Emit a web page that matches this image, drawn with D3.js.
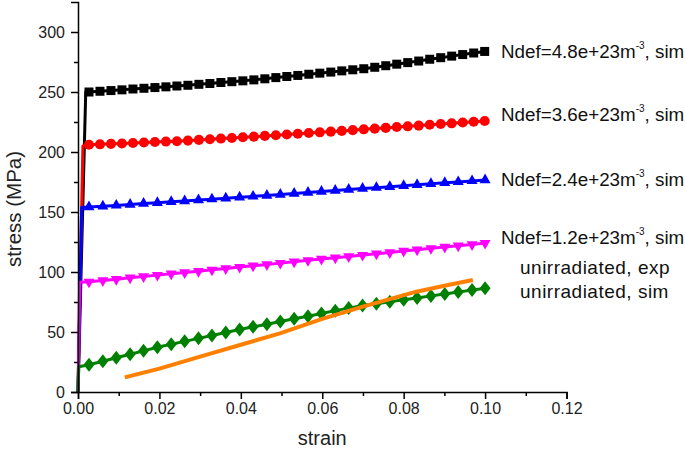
<!DOCTYPE html>
<html>
<head>
<meta charset="utf-8">
<script src="https://cdn.jsdelivr.net/npm/d3@7"></script>
<style>
  html, body { margin: 0; padding: 0; background: #fff; }
  svg { display: block; font-family: "Liberation Sans", Arial, sans-serif; }
</style>
</head>
<body>
<svg id="chart" width="685" height="453"></svg>
<script>
// ---------------- data ----------------
const strainA = [0.0027,0.0054,0.0081,0.0108,0.0135,0.0162,0.0189,0.0216,0.0243,0.0270,
  0.0297,0.0324,0.0351,0.0378,0.0405,0.0432,0.0459,0.0486,0.0513,0.0540,
  0.0567,0.0594,0.0621,0.0648,0.0675,0.0702,0.0729,0.0756,0.0783,0.0810,
  0.0837,0.0864,0.0891,0.0918,0.0945,0.0972,0.0999];
const strainB = [0.0027,0.0061,0.0094,0.0128,0.0161,0.0195,0.0229,0.0262,0.0296,0.0329,
  0.0363,0.0397,0.0430,0.0464,0.0497,0.0531,0.0565,0.0598,0.0632,0.0665,
  0.0699,0.0733,0.0766,0.0800,0.0833,0.0867,0.0901,0.0934,0.0968,0.1000];

const stress48 = [250.0,250.6,251.2,251.8,252.5,253.1,253.7,254.3,255.0,255.6,
  256.4,257.1,257.9,258.6,259.3,260.1,261.0,262.0,262.9,263.8,
  264.8,265.7,266.6,267.6,268.5,269.4,270.6,271.9,273.2,274.5,
  275.8,277.3,278.6,279.9,281.2,282.5,283.8];
const stress36 = [206.0,206.4,206.8,207.1,207.5,207.9,208.3,208.7,209.0,209.5,
  210.1,210.6,211.2,211.7,212.3,212.8,213.4,214.0,214.6,215.2,
  215.8,216.4,217.0,217.6,218.2,218.9,219.5,220.1,220.8,221.4,
  222.0,222.7,223.3,223.9,224.6,225.2,225.8];
const stress24 = [154.1,154.8,155.5,156.3,157.0,157.7,158.5,159.2,159.9,160.7,
  161.5,162.2,163.0,163.8,164.6,165.4,166.3,167.1,167.9,168.7,
  169.5,170.3,171.1,171.9,172.7,173.5,174.3,175.1,175.9,176.7];
const stress12 = [91.8,92.9,94.0,95.2,96.3,97.4,98.5,99.6,100.7,101.8,
  103.0,104.1,105.2,106.3,107.4,108.5,109.7,110.8,111.9,113.0,
  114.1,115.2,116.3,117.5,118.6,119.7,120.8,121.9,123.0,124.1];
const stressUnirrSim = [22.7,25.6,28.5,31.5,34.3,37.3,39.8,42.2,44.7,47.1,
  49.6,52.1,54.3,56.5,58.7,61.0,63.2,65.4,67.8,69.9,
  72.0,73.6,75.2,76.8,78.4,80.1,81.7,83.3,84.9,86.4];

// elastic start (origin -> yield point) for each sim series
const yieldStrain = [0.0019, 0.0012, 0.0009, 0.0004, 0.0002];
const yieldStress = [250, 205, 154, 91.5, 21];

// experimental curve (no markers)
const expStrain = [0.0115,0.0200,0.0300,0.0398,0.0496,0.0600,0.0700,0.0831,0.0900,0.0970];
const expStress = [12.2,19.5,29.5,39.2,48.9,61.0,71.1,83.6,88.5,93.3];

const seriesNames = ["Ndef=4.8e+23m", "Ndef=3.6e+23m", "Ndef=2.4e+23m", "Ndef=1.2e+23m", "unirradiated, sim"];
const expName = "unirradiated, exp";
const xTicks = [0, 0.02, 0.04, 0.06, 0.08, 0.10, 0.12];
const yTicks = [0, 50, 100, 150, 200, 250, 300];
const xTitle = "strain";
const yTitle = "stress (MPa)";

// ---------------- layout ----------------
const svg = d3.select("#chart");
const x = d3.scaleLinear().domain([0, 0.12]).range([78, 566.5]);
const y = d3.scaleLinear().domain([0, 325]).range([392, 2]);

const colors = ["#000000", "#ff0000", "#0000ff", "#ff00ff", "#008000"];
const expColor = "#ff8000";

const symbols = [
  "M-4.5,-4.5L4.5,-4.5L4.5,4.5L-4.5,4.5Z",
  d3.symbol(d3.symbolCircle, 80)(),
  "M0,-6.5L5.5,3.2L-5.5,3.2Z",
  "M0,6.5L5.5,-3.2L-5.5,-3.2Z",
  "M0,-7L5.5,0L0,7L-5.5,0Z"
];

const simSeries = [
  { strain: strainA, stress: stress48 },
  { strain: strainA, stress: stress36 },
  { strain: strainB, stress: stress24 },
  { strain: strainB, stress: stress12 },
  { strain: strainB, stress: stressUnirrSim }
];

const line = d3.line().x(d => x(d[0])).y(d => y(d[1]));

simSeries.forEach((s, i) => {
  const pts = [[0, 0], [yieldStrain[i], yieldStress[i]]].concat(s.strain.map((v, j) => [v, s.stress[j]]));
  const g = svg.append("g");
  g.append("path").attr("d", line(pts)).attr("fill", "none")
    .attr("stroke", colors[i]).attr("stroke-width", 3).attr("stroke-linejoin", "round");
  g.selectAll("path.m").data(s.strain.map((v, j) => [v, s.stress[j]])).enter()
    .append("path").attr("class", "m")
    .attr("d", symbols[i])
    .attr("transform", d => `translate(${x(d[0])},${y(d[1])})`)
    .attr("fill", colors[i]);
});

// experimental
svg.append("path")
  .attr("d", line(expStrain.map((v, j) => [v, expStress[j]])))
  .attr("fill", "none").attr("stroke", expColor).attr("stroke-width", 4)
  .attr("stroke-linejoin", "round");

// ---------------- axes ----------------
const axisColor = "#000";
svg.append("g").attr("transform", "translate(0,392)")
  .call(d3.axisBottom(x).tickValues(xTicks).tickFormat(d3.format(".2f")).tickSizeOuter(0).tickSize(7).tickPadding(4));
const xMinor = svg.append("g").attr("transform", "translate(0,392)")
  .call(d3.axisBottom(x).tickValues(d3.range(0.01, 0.12, 0.02)).tickFormat("").tickSizeOuter(0).tickSize(4));
xMinor.select(".domain").remove();

svg.append("g").attr("transform", "translate(78,0)")
  .call(d3.axisLeft(y).tickValues(yTicks).tickSizeOuter(0).tickSize(7).tickPadding(6));
const yMinor = svg.append("g").attr("transform", "translate(78,0)")
  .call(d3.axisLeft(y).tickValues(d3.range(25, 325, 50)).tickFormat("").tickSizeOuter(0).tickSize(4));
yMinor.select(".domain").remove();

svg.selectAll(".domain, .tick line").attr("stroke", axisColor).attr("stroke-width", 1.5);
svg.selectAll(".tick text").attr("font-size", 16).attr("fill", "#222")
  .attr("font-family", "'Liberation Sans', Arial, sans-serif");

svg.append("text").attr("x", x(0.06)).attr("y", 445).attr("text-anchor", "middle")
  .attr("font-size", 20).attr("fill", "#222").text(xTitle);
svg.append("text").attr("transform", "translate(21,209) rotate(-90)").attr("text-anchor", "middle")
  .attr("font-size", 20.5).attr("fill", "#222").text(yTitle);

// ---------------- labels ----------------
const labelPos = [[501, 58], [501, 121], [501, 186], [501, 244]];
labelPos.forEach((p, i) => {
  const t = svg.append("text").attr("x", p[0]).attr("y", p[1]).attr("font-size", 18.8).attr("fill", "#111");
  t.append("tspan").text(seriesNames[i]);
  t.append("tspan").attr("font-size", 10).attr("dy", -9).text("-3");
  t.append("tspan").attr("dy", 9).text(", sim");
});
svg.append("text").attr("x", 520).attr("y", 274).attr("font-size", 19).attr("letter-spacing", 0.5)
  .attr("fill", "#111").text(expName);
svg.append("text").attr("x", 520).attr("y", 298).attr("font-size", 19).attr("letter-spacing", 0.5)
  .attr("fill", "#111").text(seriesNames[4]);
</script>
</body>
</html>
